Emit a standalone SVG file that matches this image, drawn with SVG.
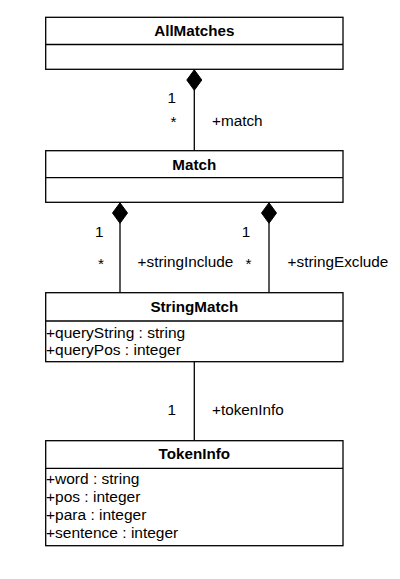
<svg xmlns="http://www.w3.org/2000/svg" width="400" height="579" viewBox="0 0 400 579">
<style>
.box{fill:#fff;stroke:#000;stroke-width:1.3}
.div{stroke:#000;stroke-width:1.3}
.t{font-family:"Liberation Sans",Arial,sans-serif;font-size:15.3px;fill:#000}
.attr{font-size:15.5px}
.title{font-weight:bold;text-anchor:middle;font-size:15.2px}
.end{text-anchor:end}
.line{stroke:#000;stroke-width:1.3;fill:none}
.dia{fill:#000;stroke:#000;stroke-width:1}
</style>
<rect width="400" height="579" fill="#fff"/>
<g id="AllMatches">
<rect class="box" x="45.7" y="17.3" width="297.3" height="52"/>
<line class="div" x1="45.7" y1="44.5" x2="343" y2="44.5"/>
<text class="t title" x="194.3" y="35.8">AllMatches</text>
</g>
<g id="Match">
<rect class="box" x="45.7" y="150.7" width="297.3" height="51.6"/>
<line class="div" x1="45.7" y1="177.7" x2="343" y2="177.7"/>
<text class="t title" x="194.3" y="169.5">Match</text>
</g>
<g id="StringMatch">
<rect class="box" x="45.7" y="292.7" width="297.3" height="69"/>
<line class="div" x1="45.7" y1="321" x2="343" y2="321"/>
<text class="t title" x="194.3" y="311.6">StringMatch</text>
<text class="t attr" x="46" y="337.6">+queryString : string</text>
<text class="t attr" x="46" y="355.1">+queryPos : integer</text>
</g>
<g id="TokenInfo">
<rect class="box" x="45.7" y="440.7" width="297.3" height="105"/>
<line class="div" x1="45.7" y1="468.3" x2="343" y2="468.3"/>
<text class="t title" x="194.3" y="459.4">TokenInfo</text>
<text class="t attr" x="46" y="484.3">+word : string</text>
<text class="t attr" x="46" y="502.1">+pos : integer</text>
<text class="t attr" x="46" y="520.1">+para : integer</text>
<text class="t attr" x="46" y="538.3">+sentence : integer</text>
</g>
<g id="connectors">
<line class="line" x1="194.3" y1="90" x2="194.3" y2="150.7"/>
<polygon class="dia" points="194.3,69.8 201.8,80 194.3,90.3 186.8,80"/>
<text class="t end" x="176" y="102.7">1</text>
<text class="t end" x="176.5" y="127.2">*</text>
<text class="t" x="212" y="126.2">+match</text>

<line class="line" x1="120" y1="223" x2="120" y2="292.7"/>
<polygon class="dia" points="120,202.8 127.5,213 120,223.3 112.5,213"/>
<text class="t end" x="103.5" y="236.7">1</text>
<text class="t end" x="104" y="268.6">*</text>
<text class="t" x="137.6" y="267.4">+stringInclude</text>

<line class="line" x1="269" y1="223" x2="269" y2="292.7"/>
<polygon class="dia" points="269,202.8 276.5,213 269,223.3 261.5,213"/>
<text class="t end" x="250.3" y="236.7">1</text>
<text class="t end" x="251.5" y="268.6">*</text>
<text class="t" x="287.6" y="267.4">+stringExclude</text>

<line class="line" x1="194.3" y1="361.7" x2="194.3" y2="440.7"/>
<text class="t end" x="176" y="415.2">1</text>
<text class="t" x="212" y="415.2">+tokenInfo</text>
</g>
</svg>
